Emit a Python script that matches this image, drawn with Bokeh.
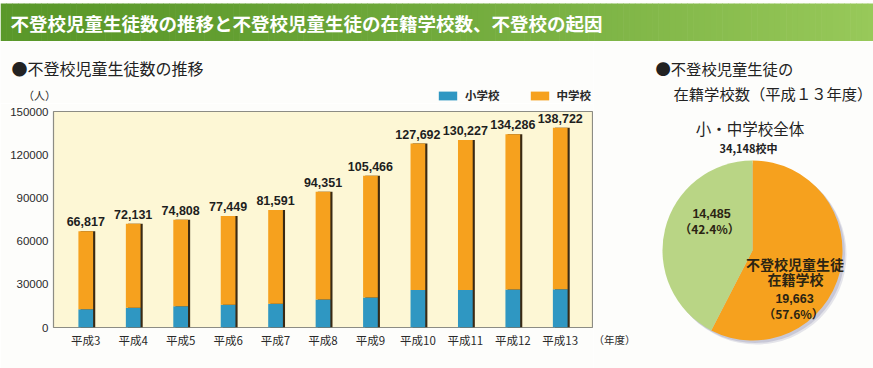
import numpy as np
from bokeh.plotting import figure
from bokeh.models import (FactorRange, Range1d, FixedTicker, NumeralTickFormatter,
                          Label, LabelSet, ColumnDataSource, Legend, LegendItem)
from bokeh.transform import dodge
from bokeh.layouts import column, row
from bokeh.embed import file_html
from bokeh.resources import INLINE
from bokeh.core.properties import value

# ---------------- data ----------------
main_title = "不登校児童生徒数の推移と不登校児童生徒の在籍学校数、不登校の起因"
bar_title = "●不登校児童生徒数の推移"
years = ["平成3", "平成4", "平成5", "平成6", "平成7", "平成8", "平成9",
         "平成10", "平成11", "平成12", "平成13"]
elementary = [12645, 13710, 14769, 15786, 16569, 19498, 20765, 26017, 26047, 26373, 26511]
totals = [66817, 72131, 74808, 77449, 81591, 94351, 105466, 127692, 130227, 134286, 138722]
junior = [t - e for t, e in zip(totals, elementary)]
series_names = ["小学校", "中学校"]
y_ticks = [0, 30000, 60000, 90000, 120000, 150000]
y_unit = "（人）"
x_unit = "（年度）"

pie_title_1 = "●不登校児童生徒の"
pie_title_2 = "在籍学校数（平成１３年度）"
pie_sub = "小・中学校全体"
pie_total = 34148
pie_names = ["不登校児童生徒\n在籍学校", "その他"]
pie_values = [19663, 14485]

# ---------------- styles ----------------
JP = "Noto Sans CJK JP"
NUM = "Liberation Sans"
BLUE = "#2f97c2"
ORANGE = "#f6a11e"
GREEN = "#b9d585"
PAGE_BG = "#fdfdfb"
W_ALL, H_ALL = 873, 368
LEFT_W = 593


def blank(width, height):
    f = figure(width=width, height=height, x_range=Range1d(0, width), y_range=Range1d(0, height),
               output_backend="svg", toolbar_location=None, min_border=0,
               x_axis_location=None, y_axis_location=None)
    f.grid.visible = False
    f.outline_line_color = None
    f.border_fill_color = PAGE_BG
    f.background_fill_color = PAGE_BG
    return f


# ---------------- title bar ----------------
tfig = blank(W_ALL, 41)
n = 150
edges = np.linspace(0, W_ALL, n + 1)
c0 = np.array([90, 152, 42])
c1 = np.array([152, 201, 90])
tt = np.linspace(0, 1, n) ** 1.4
cols = ["#%02x%02x%02x" % tuple((c0 + (c1 - c0) * ti).astype(int)) for ti in tt]
tfig.quad(left=edges[:-1], right=edges[1:] + 0.6, bottom=0, top=38, fill_color=cols, line_color=None)
tfig.add_layout(Label(x=10, y=19, text=main_title, text_font=JP, text_font_style="bold",
                      text_font_size="18.5px", text_color="white", text_baseline="middle"))

# ---------------- bar chart header ----------------
header = blank(LEFT_W, 62)
header.add_layout(Label(x=11, y=36, text=bar_title, text_font=JP, text_font_size="16px",
                        text_color="#222222", text_baseline="middle"))
header.add_layout(Label(x=39, y=9, text=y_unit, text_font=JP, text_font_size="11px",
                        text_color="#2a2a2a", text_baseline="middle", text_align="center"))
# legend proxies: a single point far outside the visible range, so only the legend swatch shows
dummy = [header.quad(left=[-60], right=[-50], bottom=[-60], top=[-50], fill_color=c, line_color=None)
         for c in (BLUE, ORANGE)]
legend = Legend(items=[LegendItem(label=series_names[i], renderers=[dummy[i]]) for i in range(2)],
                orientation="horizontal", location=(436, 0), padding=0, margin=0,
                spacing=28, glyph_width=23, glyph_height=11, label_standoff=6,
                label_height=11, label_text_font=JP, label_text_font_size="11.5px",
                label_text_font_style="bold", label_text_color="#2a2a2a",
                background_fill_alpha=0, border_line_color=None)
header.add_layout(legend)

# ---------------- bar chart ----------------
src = ColumnDataSource(dict(year=years, elementary=elementary, junior=junior,
                            total=totals, label=[f"{t:,}" for t in totals]))

bar = figure(width=LEFT_W, height=265,
             x_range=FactorRange(factors=years, range_padding=0.18, range_padding_units="absolute"),
             y_range=Range1d(0, 150000),
             output_backend="svg", toolbar_location=None,
             min_border_left=53, min_border_right=1, min_border_top=8, min_border_bottom=41)
bar.background_fill_color = "#fdf7d5"
bar.border_fill_color = PAGE_BG
bar.outline_line_color = "#8c8c84"
bar.outline_line_width = 1.2
bar.grid.visible = False

bar.vbar(x=dodge("year", 0.045, range=bar.x_range), top="total", width=0.31, source=src,
         fill_color="#3a2a14", line_color=None)
rs = bar.vbar_stack(["elementary", "junior"], x="year", width=0.31, source=src,
                    fill_color=[BLUE, ORANGE], line_color=None)

bar.add_layout(LabelSet(x="year", y="total", text="label", source=src, text_align="center",
                        text_baseline="bottom", y_offset=5, text_font=value(NUM),
                        text_font_style="bold", text_font_size="12.5px", text_color="#1e1e1e"))

bar.yaxis.ticker = FixedTicker(ticks=y_ticks)
bar.yaxis.formatter = NumeralTickFormatter(format="0")
for ax in bar.axis:
    ax.axis_line_color = None
    ax.major_tick_line_color = None
    ax.minor_tick_line_color = None
    ax.major_tick_out = 0
    ax.major_tick_in = 0
    ax.major_label_text_color = "#2a2a2a"
    ax.major_label_text_font_size = "11.5px"
bar.yaxis.major_label_text_font = NUM
bar.yaxis.major_label_standoff = 5
bar.xaxis.major_label_text_font = JP
bar.xaxis.major_label_standoff = 4

# ---------------- pie chart ----------------
PW, PH = W_ALL - LEFT_W, 327
pie = blank(PW, PH)

cx, cy, R = 159, 118, 90
fr = np.array(pie_values, dtype=float) / pie_total
ang = np.cumsum(np.concatenate([[0], fr])) * 2 * np.pi
starts = np.pi / 2 - ang[1:]
ends = np.pi / 2 - ang[:-1]

for off, a in [(4, 0.22), (2.5, 0.32)]:
    pie.circle(x=[cx + off], y=[cy - off], radius=R, fill_color="#8f8fae",
               fill_alpha=a, line_color=None)
pie.wedge(x=cx, y=cy, radius=R, start_angle=starts, end_angle=ends,
          fill_color=[ORANGE, GREEN], line_color=None)


def plab(x, y, text, size, bold=False, align="center", font=JP, color="#2b2413"):
    pie.add_layout(Label(x=x, y=y, text=text, text_font=font, text_font_size=size,
                         text_font_style="bold" if bold else "normal", text_color=color,
                         text_align=align, text_baseline="middle"))


plab(0, 29, x_unit, "10.5px", align="left", color="#2a2a2a")
plab(62, 301, pie_title_1, "15.3px", align="left", color="#222222")
plab(80, 276, pie_title_2, "15.3px", align="left", color="#222222")
plab(156.5, 241, pie_sub, "15.5px", color="#222222")
plab(155, 221, f"{pie_total:,}校中", "11px", bold=True, color="#222222")

pcts = [round(v / pie_total * 100, 1) for v in pie_values]
plab(118, 155, f"{pie_values[1]:,}", "12.5px", bold=True, font=NUM)
plab(116, 140, f"（{pcts[1]}%）", "12px", bold=True)
name_lines = pie_names[0].split("\n")
plab(201.5, 105, name_lines[0], "14px", bold=True)
plab(202, 90, name_lines[1], "14px", bold=True)
plab(201, 70, f"{pie_values[0]:,}", "12.5px", bold=True, font=NUM)
plab(200, 55, f"（{pcts[0]}%）", "12px", bold=True)

left_col = column(column(header), bar, spacing=0)
layout = column(tfig, row(left_col, column(pie), spacing=0), spacing=0)
open("out.html", "w").write(file_html(layout, INLINE))
